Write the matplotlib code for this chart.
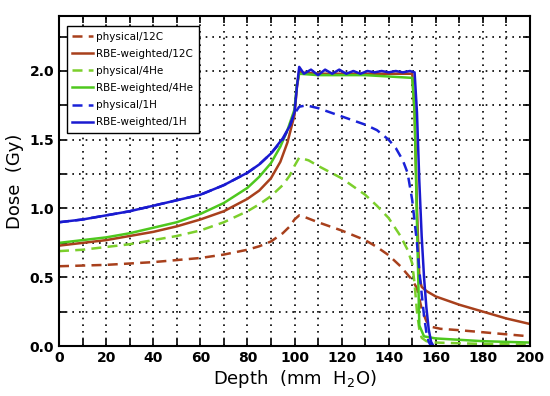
import matplotlib.pyplot as plt
from matplotlib.ticker import MultipleLocator

# depth (mm) / dose (Gy) points
c12_phys_x = [0, 10, 20, 30, 40, 50, 60, 70, 80, 85, 90, 95, 98, 100, 102, 104, 110, 120, 130, 135, 140, 145, 148, 150, 152, 154, 156, 158, 162, 170, 180, 190, 200]
c12_phys_y = [0.58, 0.585, 0.59, 0.60, 0.61, 0.625, 0.64, 0.665, 0.70, 0.725, 0.76, 0.82, 0.87, 0.92, 0.95, 0.94, 0.90, 0.84, 0.77, 0.72, 0.66, 0.58, 0.52, 0.48, 0.42, 0.27, 0.18, 0.14, 0.125, 0.115, 0.10, 0.085, 0.07]

c12_rbe_x = [0, 10, 20, 30, 40, 50, 60, 70, 80, 85, 90, 94, 97, 100, 101, 102, 110, 120, 130, 140, 150, 151, 152, 153, 154, 156, 160, 170, 180, 190, 200]
c12_rbe_y = [0.73, 0.75, 0.77, 0.80, 0.83, 0.87, 0.92, 0.98, 1.07, 1.13, 1.22, 1.34, 1.48, 1.68, 1.88, 1.99, 1.98, 1.98, 1.98, 1.98, 1.98, 1.70, 1.00, 0.50, 0.43, 0.40, 0.36, 0.30, 0.25, 0.20, 0.16]

he_phys_x = [0, 10, 20, 30, 40, 50, 60, 70, 80, 85, 90, 95, 98, 100, 102, 106, 110, 120, 130, 135, 140, 145, 148, 150, 151, 152, 153, 154, 156, 160, 170, 180, 200]
he_phys_y = [0.69, 0.70, 0.72, 0.74, 0.77, 0.80, 0.84, 0.90, 0.98, 1.03, 1.09, 1.17, 1.24, 1.31, 1.37, 1.35, 1.31, 1.22, 1.10, 1.02, 0.93, 0.80, 0.70, 0.60, 0.45, 0.25, 0.12, 0.06, 0.035, 0.025, 0.02, 0.015, 0.01]

he_rbe_x = [0, 10, 20, 30, 40, 50, 60, 70, 80, 85, 90, 94, 97, 100, 101, 102, 110, 120, 130, 140, 150, 151, 152, 153, 155, 160, 170, 180, 200]
he_rbe_y = [0.75, 0.77, 0.79, 0.82, 0.86, 0.90, 0.96, 1.04, 1.15, 1.23, 1.33, 1.45, 1.57, 1.72, 1.90, 1.98, 1.97, 1.97, 1.97, 1.96, 1.95, 1.70, 0.90, 0.15, 0.07, 0.055, 0.045, 0.035, 0.025]

h_phys_x = [0, 10, 20, 30, 40, 50, 60, 70, 80, 85, 90, 95, 98, 100, 102, 105, 110, 120, 130, 135, 140, 143, 146, 148, 150, 152, 153, 154, 155, 156, 157, 158]
h_phys_y = [0.90, 0.92, 0.95, 0.98, 1.02, 1.06, 1.10, 1.17, 1.26, 1.32, 1.40, 1.50, 1.60, 1.69, 1.74, 1.75, 1.73, 1.67, 1.61, 1.57, 1.50, 1.44, 1.35, 1.26, 1.06, 0.75, 0.55, 0.38, 0.22, 0.10, 0.03, 0.0]

h_rbe_x = [0, 10, 20, 30, 40, 50, 60, 70, 80, 85, 90, 95, 98, 100, 101, 102, 104, 107, 110, 113, 116, 119, 122, 125, 128, 131, 134, 137, 140, 143, 146, 149, 151, 152, 153, 154, 155, 156, 157, 158, 159]
h_rbe_y = [0.90, 0.92, 0.95, 0.98, 1.02, 1.06, 1.10, 1.17, 1.26, 1.32, 1.40, 1.51, 1.60, 1.70, 1.88, 2.03, 1.98, 2.01, 1.97, 2.01, 1.98, 2.01, 1.98, 2.00, 1.98, 2.00, 1.99, 2.00, 1.99, 2.00, 1.99, 2.00, 1.99, 1.70, 1.20, 0.80, 0.50, 0.28, 0.12, 0.03, 0.0]

fig = plt.figure(figsize=(5.5, 3.96), dpi=100)
ax = fig.add_axes([59/550, 50/396, 471/550, 330/396])

brown = '#a8401c'
ax.plot(c12_phys_x, c12_phys_y, '--', color=brown, lw=1.8, dashes=(4, 2.5), label='physical/12C')
ax.plot(c12_rbe_x, c12_rbe_y, '-', color=brown, lw=1.8, label='RBE-weighted/12C')
ax.plot(he_phys_x, he_phys_y, '--', color='#7ccf2c', lw=1.8, dashes=(4, 2.5), label='physical/4He')
ax.plot(he_rbe_x, he_rbe_y, '-', color='#4ec81e', lw=1.8, label='RBE-weighted/4He')
ax.plot(h_phys_x, h_phys_y, '--', color='#1a22d8', lw=1.8, dashes=(4, 2.5), label='physical/1H')
ax.plot(h_rbe_x, h_rbe_y, '-', color='#1a1ad0', lw=1.8, label='RBE-weighted/1H')

ax.set_xlim(0, 200)
ax.set_ylim(0, 2.4)
ax.xaxis.set_major_locator(MultipleLocator(20))
ax.xaxis.set_minor_locator(MultipleLocator(10))
ax.yaxis.set_major_locator(MultipleLocator(0.5))
ax.yaxis.set_minor_locator(MultipleLocator(0.25))
ax.yaxis.set_major_formatter(plt.FormatStrFormatter('%.1f'))
ax.grid(True, which='both', color='black', linestyle=(0, (1, 3)), lw=1.2)
ax.tick_params(which='both', direction='in', top=True, right=True, length=5, width=1.2)
ax.tick_params(labelsize=10)
for lab in ax.get_xticklabels() + ax.get_yticklabels():
    lab.set_fontweight('bold')
for s in ax.spines.values():
    s.set_linewidth(1.5)

ax.set_xlabel('Depth  (mm  H$_2$O)', fontsize=13, labelpad=2)
ax.set_ylabel('Dose  (Gy)', fontsize=13)

leg = ax.legend(loc='upper left', bbox_to_anchor=(0.005, 0.985), fontsize=7.5, fancybox=False,
                edgecolor='black', framealpha=1, handlelength=2.0, handletextpad=0.3,
                labelspacing=0.68, borderpad=0.55)
leg.get_frame().set_linewidth(1.0)

fig.savefig('out.png', dpi=100)
